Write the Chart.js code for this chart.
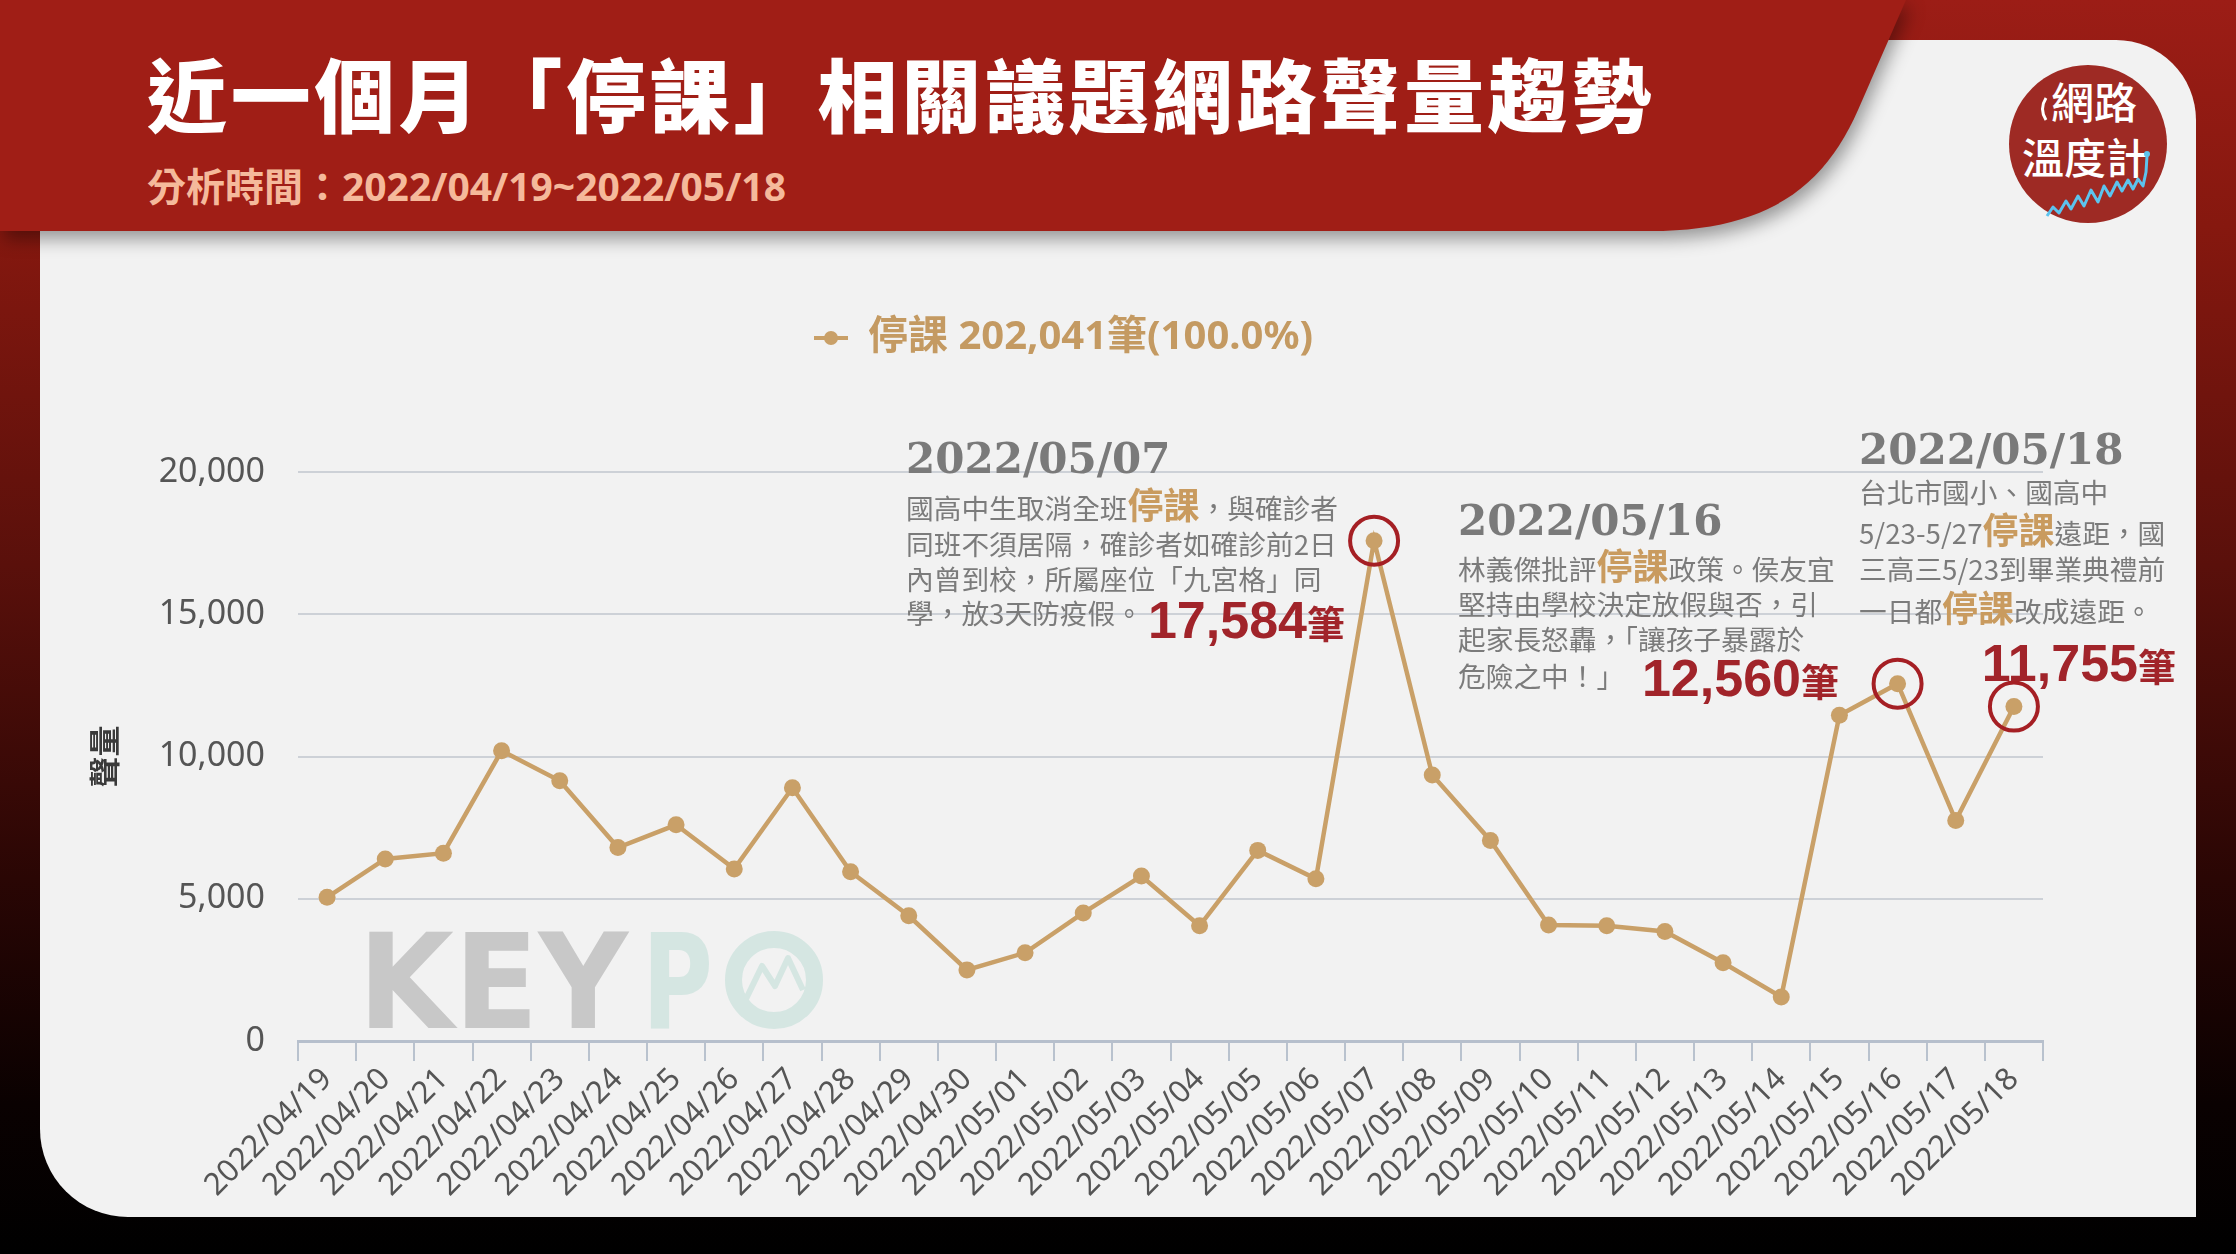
<!DOCTYPE html>
<html>
<head>
<meta charset="utf-8">
<script src="https://cdn.jsdelivr.net/npm/chart.js@4.4.1/dist/chart.umd.min.js"></script>
<style>
  html,body{margin:0;padding:0;}
  body{width:2236px;height:1254px;overflow:hidden;position:relative;
    background:linear-gradient(to bottom,#9c1d16 0%,#86180f 18%,#5a100b 45%,#2a0604 70%,#0a0101 88%,#000 100%);}
  #card{position:absolute;left:40px;top:40px;width:2156px;height:1177px;background:#f2f2f2;border-radius:0 80px 0 88px;}
  #header{position:absolute;left:0;top:0;filter:drop-shadow(4px 8px 9px rgba(0,0,0,0.38));}
  .title{position:absolute;left:147px;top:51px;font-family:"Noto Sans CJK TC";font-weight:900;font-size:80px;line-height:80px;color:#fff;letter-spacing:3.8px;white-space:nowrap;}
  .sub{position:absolute;left:147px;top:166px;font-family:"Noto Sans","Noto Sans CJK TC";font-weight:700;font-size:39px;line-height:39px;color:#f5b99b;white-space:nowrap;}
  canvas#c{position:absolute;left:40px;top:232px;}
  .ann{position:absolute;pointer-events:none;}
  .date{position:absolute;left:0;font-family:"DejaVu Serif";font-weight:700;font-size:42px;line-height:42px;color:#7a7a7a;white-space:nowrap;}
  .ln{position:absolute;left:0;height:36px;font-family:"Noto Sans CJK TC";font-weight:400;font-size:27.7px;line-height:36px;color:#7b7b7b;white-space:nowrap;}
  .ln b{font-weight:700;font-size:36px;line-height:0;color:#c99b5f;}
  .num{position:absolute;font-family:"Liberation Sans";font-weight:700;font-size:52px;line-height:52px;color:#a1242a;white-space:nowrap;text-align:right;}
  .num span{font-family:"Noto Sans CJK TC";font-size:38px;line-height:0;}
</style>
</head>
<body>
<div id="card"></div>

<!-- watermark -->
<svg style="position:absolute;left:0;top:0" width="2236" height="1254">
  <text x="358" y="1028" font-family="DejaVu Sans" font-weight="700" font-size="132" fill="#c8c8c8" textLength="270" lengthAdjust="spacingAndGlyphs">KEY</text>
  <text x="642" y="1028" font-family="DejaVu Sans" font-weight="700" font-size="132" fill="#d5e6e2" textLength="71" lengthAdjust="spacingAndGlyphs">P</text>
  <circle cx="774" cy="980" r="40.5" fill="none" stroke="#d5e6e2" stroke-width="17"/>
  <polyline points="746,999 762,966 775,986 788,958 803,990" fill="none" stroke="#d5e6e2" stroke-width="6" stroke-linejoin="round"/>
</svg>

<svg id="header" width="2236" height="270">
  <path d="M0 0 H1906 L1858 110 C1825 185 1770 231 1650 231 H0 Z" fill="#a01e16"/>
</svg>
<div class="title">近一個月「停課」相關議題網路聲量趨勢</div>
<div class="sub">分析時間：2022/04/19~2022/05/18</div>

<!-- logo -->
<svg style="position:absolute;left:0;top:0" width="2236" height="260">
  <circle cx="2088" cy="144" r="79" fill="#9e2a24"/>
  <path d="M2046 98 Q2039 109 2046 120" fill="none" stroke="#fff" stroke-width="3"/>
  <text x="2094" y="119" text-anchor="middle" font-family="Noto Sans CJK TC" font-weight="500" font-size="43" fill="#fff">網路</text>
  <text x="2085" y="174" text-anchor="middle" font-family="Noto Sans CJK TC" font-weight="500" font-size="42" fill="#fff">溫度計</text>
  <polyline points="2047,216 2053,207 2059,213 2066,201 2071,209 2078,196 2084,206 2091,190 2098,202 2104,186 2110,196 2117,182 2122,191 2128,180 2133,189 2138,179 2143,186 2146,172 2147,156" fill="none" stroke="#5cc3ee" stroke-width="3" stroke-linejoin="round"/>
  <circle cx="2147" cy="154" r="3" fill="#5cc3ee"/>
</svg>

<canvas id="c" width="2156" height="985"></canvas>

<!-- annotations -->
<div class="ann" style="left:906px;top:0">
  <div class="date" style="top:438px">2022/05/07</div>
  <div class="ln" style="top:489px">國高中生取消全班<b>停課</b>，與確診者</div>
  <div class="ln" style="top:525px">同班不須居隔，確診者如確診前2日</div>
  <div class="ln" style="top:560px">內曾到校，所屬座位「九宮格」同</div>
  <div class="ln" style="top:594px">學，放3天防疫假。</div>
</div>
<div class="ann" style="left:1458px;top:0">
  <div class="date" style="top:500px">2022/05/16</div>
  <div class="ln" style="top:550px">林義傑批評<b>停課</b>政策。侯友宜</div>
  <div class="ln" style="top:585px">堅持由學校決定放假與否，引</div>
  <div class="ln" style="top:620px">起家長怒轟，「讓孩子暴露於</div>
  <div class="ln" style="top:657px">危險之中！」</div>
</div>
<div class="ann" style="left:1859px;top:0">
  <div class="date" style="top:429px">2022/05/18</div>
  <div class="ln" style="top:473px">台北市國小、國高中</div>
  <div class="ln" style="top:514px">5/23-5/27<b>停課</b>遠距，國</div>
  <div class="ln" style="top:550px">三高三5/23到畢業典禮前</div>
  <div class="ln" style="top:592px">一日都<b>停課</b>改成遠距。</div>
</div>
<div class="num" id="n0" style="right:891px;top:594px"></div>
<div class="num" id="n1" style="right:397px;top:652px"></div>
<div class="num" id="n2" style="right:60px;top:637px"></div>

<script>
// ---- data ----
const categories = [
  '2022/04/19','2022/04/20','2022/04/21','2022/04/22','2022/04/23','2022/04/24','2022/04/25',
  '2022/04/26','2022/04/27','2022/04/28','2022/04/29','2022/04/30','2022/05/01','2022/05/02',
  '2022/05/03','2022/05/04','2022/05/05','2022/05/06','2022/05/07','2022/05/08','2022/05/09',
  '2022/05/10','2022/05/11','2022/05/12','2022/05/13','2022/05/14','2022/05/15','2022/05/16',
  '2022/05/17','2022/05/18'
];
const seriesValues = [
  5050, 6400, 6600, 10200, 9150, 6800, 7600,
  6050, 8900, 5950, 4400, 2500, 3100, 4500,
  5800, 4050, 6700, 5700, 17584, 9350, 7050,
  4080, 4050, 3850, 2750, 1550, 11450, 12560,
  7750, 11755
];
const yTickValues = [0, 5000, 10000, 15000, 20000];
const seriesName = '停課';
const seriesTotal = 202041;
const seriesShare = '100.0%';
const highlightDates = ['2022/05/07', '2022/05/16', '2022/05/18'];
const yAxisTitle = '聲量';
const unit = '筆';

// ---- styling ----
const LINE = '#c9a068';
const highlightIdx = highlightDates.map(d => categories.indexOf(d));

// numbers in annotations from data
highlightIdx.forEach((idx, k) => {
  const el = document.getElementById('n' + k);
  el.innerHTML = seriesValues[idx].toLocaleString('en-US') + '<span>' + unit + '</span>';
});

// legend marker: line with dot
const marker = document.createElement('canvas');
marker.width = 34; marker.height = 16;
{
  const m = marker.getContext('2d');
  m.strokeStyle = LINE; m.lineWidth = 4;
  m.beginPath(); m.moveTo(0, 8); m.lineTo(34, 8); m.stroke();
  m.fillStyle = LINE; m.beginPath(); m.arc(17, 8, 7, 0, Math.PI * 2); m.fill();
}

const legendSpacer = {
  id: 'legendSpacer',
  afterInit(chart) {
    const lg = chart.legend;
    if (lg && !lg._patched) {
      const orig = lg.fit;
      lg.fit = function () { orig.call(this); this.height += 104; };
      lg._patched = true;
    }
  },
  afterLayout(chart) {
    const lg = chart.legend;
    if (lg) { lg.left += 22; lg.right += 22; }
  }
};

const highlightRings = {
  id: 'highlightRings',
  afterDatasetsDraw(chart) {
    const meta = chart.getDatasetMeta(0);
    const ctx = chart.ctx;
    ctx.save();
    ctx.strokeStyle = '#a51f24';
    ctx.lineWidth = 4;
    highlightIdx.forEach(i => {
      const p = meta.data[i];
      ctx.beginPath();
      ctx.arc(p.x, p.y, 24, 0, Math.PI * 2);
      ctx.stroke();
    });
    ctx.restore();
  }
};

new Chart(document.getElementById('c'), {
  type: 'line',
  data: {
    labels: categories,
    datasets: [{
      label: `${seriesName} ${seriesTotal.toLocaleString('en-US')}${unit}(${seriesShare})`,
      data: seriesValues,
      borderColor: LINE,
      backgroundColor: LINE,
      borderWidth: 4.5,
      pointRadius: 8.5,
      pointHoverRadius: 8.5,
      pointBackgroundColor: LINE,
      pointBorderWidth: 0,
      tension: 0,
      fill: false
    }]
  },
  options: {
    responsive: false,
    animation: false,
    devicePixelRatio: 1,
    layout: { padding: { top: 76, left: 0, right: 153, bottom: 0 } },
    plugins: {
      legend: {
        display: true,
        position: 'top',
        labels: {
          usePointStyle: true,
          pointStyle: marker,
          pointStyleWidth: 34,
          padding: 10,
          color: '#c49a62',
          font: { family: '"Noto Sans", "Noto Sans CJK TC"', size: 40, weight: 'bold' }
        }
      },
      tooltip: { enabled: false }
    },
    scales: {
      x: {
        offset: true,
        grid: { display: true, offset: true, drawOnChartArea: false, drawTicks: true, tickLength: 20, color: '#b9c2ce', lineWidth: 2 },
        border: { display: true, color: '#b6bfcc', width: 3 },
        ticks: { autoSkip: false, minRotation: 45, maxRotation: 45, padding: 0, color: '#555', font: { family: '"Noto Sans"', size: 31 } },
        afterFit: s => { s.height = 176; }
      },
      y: {
        min: yTickValues[0],
        max: yTickValues[yTickValues.length - 1],
        afterBuildTicks: s => { s.ticks = yTickValues.map(v => ({ value: v })); },
        ticks: { padding: 33, color: '#555', font: { family: '"Noto Sans"', size: 34 },
                 callback: v => Number(v).toLocaleString('en-US') },
        grid: { color: '#cdd1d7', lineWidth: 2, drawTicks: false },
        border: { display: false },
        title: { display: true, text: yAxisTitle, color: '#3a3a3a', padding: { top: 46, bottom: 0 },
                 font: { family: '"Noto Sans CJK TC"', size: 31, weight: '700' } },
        afterFit: s => { s.width = 258; }
      }
    }
  },
  plugins: [legendSpacer, highlightRings]
});
</script>
</body>
</html>
